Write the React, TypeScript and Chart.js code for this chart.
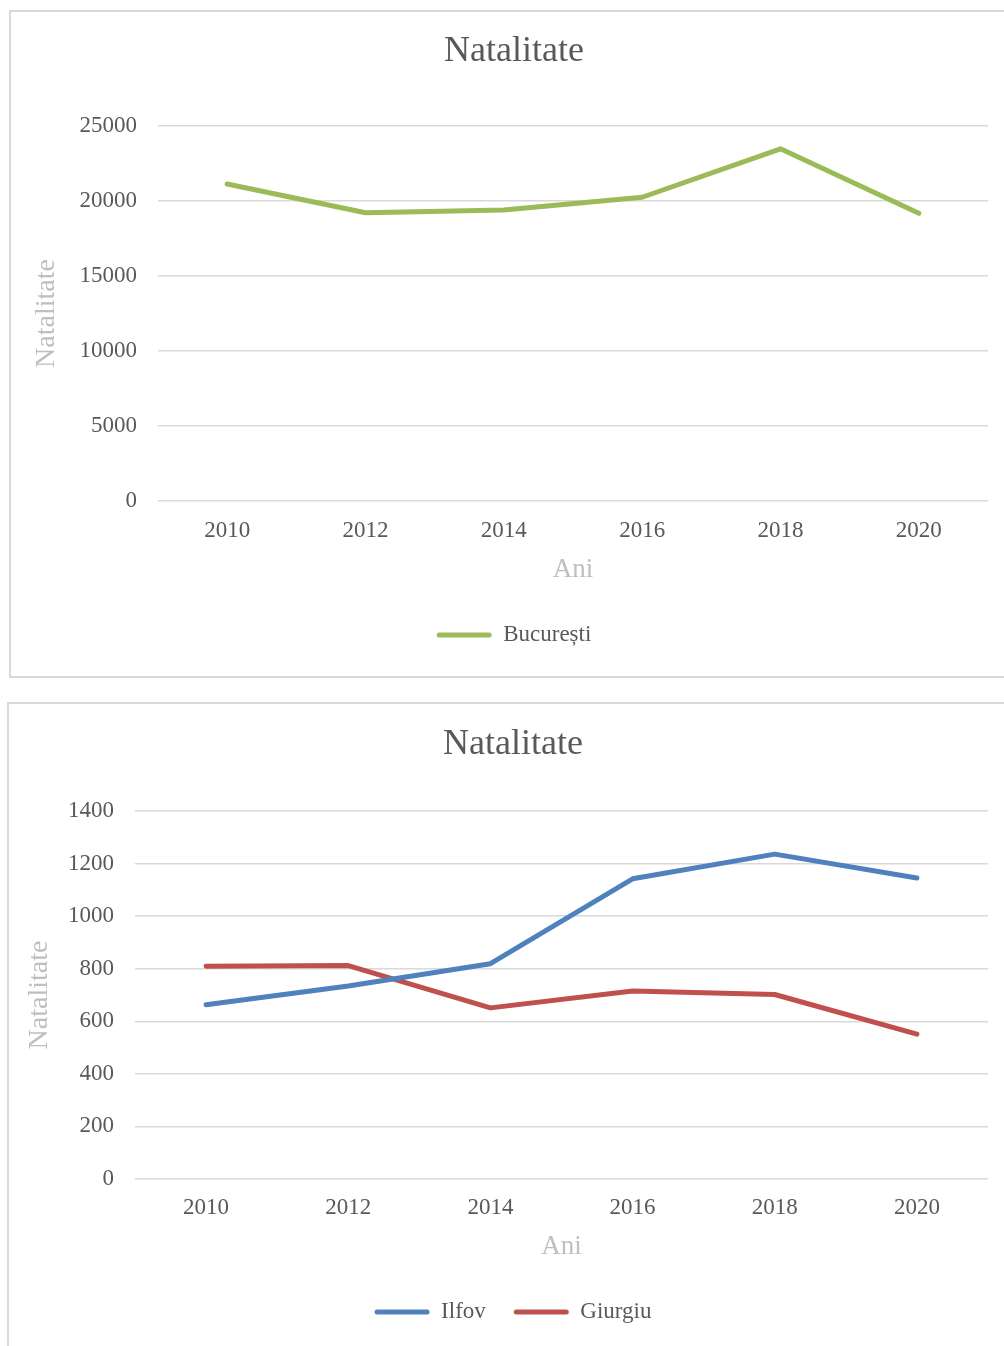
import React, { useEffect, useRef } from "react";
import { Chart, registerables } from "chart.js";

Chart.register(...registerables);

const years = ["2010", "2012", "2014", "2016", "2018", "2020"];
const bucurestiValues = [21130, 19220, 19400, 20250, 23480, 19180];
const ilfovValues = [663, 734, 819, 1142, 1236, 1145];
const giurgiuValues = [809, 812, 651, 715, 702, 551];
const topTicks = [0, 5000, 10000, 15000, 20000, 25000];
const bottomTicks = [0, 200, 400, 600, 800, 1000, 1200, 1400];

const FONT = "'Liberation Serif', 'Times New Roman', serif";
const TEXT = "#595959";
const AXIS_TITLE = "#bfbfbf";
const GRID = "#d9d9d9";

type Series = { label: string; data: number[]; color: string };

type Layout = {
  width: number;
  height: number;
  padBottom: number;
  titlePad: { top: number; bottom: number };
  xTickPad: number;
  xTitlePad: { top: number; bottom: number };
  yWidth: number;
  yTitlePadTop: number;
};

function LineChart({ series, ticks, layout }: { series: Series[]; ticks: number[]; layout: Layout }) {
  const ref = useRef<HTMLCanvasElement | null>(null);
  useEffect(() => {
    if (!ref.current) return;
    const chart = new Chart(ref.current, {
      type: "line",
      data: {
        labels: years,
        datasets: series.map((s) => ({
          label: s.label,
          data: s.data,
          borderColor: s.color,
          backgroundColor: s.color,
          borderWidth: 5,
          borderCapStyle: "round",
          borderJoinStyle: "round",
          pointRadius: 0,
          tension: 0,
          fill: false,
        })),
      },
      options: {
        responsive: false,
        animation: false,
        devicePixelRatio: 1,
        layout: { padding: { left: 30, right: 30, top: 0, bottom: layout.padBottom } },
        plugins: {
          tooltip: { enabled: false },
          title: {
            display: true,
            text: "Natalitate",
            color: TEXT,
            font: { family: FONT, size: 36, weight: "normal" },
            padding: layout.titlePad,
          },
          legend: {
            display: true,
            position: "bottom",
            labels: {
              color: TEXT,
              font: { family: FONT, size: 23 },
              boxWidth: 55,
              boxHeight: 5,
              useBorderRadius: true,
              borderRadius: 2.5,
              padding: 28,
              generateLabels: (c: any) =>
                Chart.defaults.plugins.legend.labels
                  .generateLabels(c)
                  .map((l: any) => ({ ...l, lineWidth: 0, fillStyle: l.strokeStyle })),
            },
          },
        },
        scales: {
          x: {
            offset: true,
            grid: { display: false },
            border: { display: false },
            ticks: { color: TEXT, font: { family: FONT, size: 23 }, padding: layout.xTickPad, maxRotation: 0 },
            title: {
              display: true,
              text: "Ani",
              color: AXIS_TITLE,
              font: { family: FONT, size: 27 },
              padding: layout.xTitlePad,
            },
          },
          y: {
            min: ticks[0],
            max: ticks[ticks.length - 1],
            grid: { color: GRID, lineWidth: 1.5, drawTicks: false },
            border: { display: false },
            ticks: {
              stepSize: ticks[1] - ticks[0],
              color: TEXT,
              font: { family: FONT, size: 23 },
              padding: 21,
              callback: (v: any) => String(v),
            },
            title: {
              display: true,
              text: "Natalitate",
              color: AXIS_TITLE,
              font: { family: FONT, size: 28 },
              padding: { top: layout.yTitlePadTop, bottom: 0 },
            },
            afterFit: (scale: any) => {
              scale.width = layout.yWidth;
            },
          },
        },
      } as any,
    });
    return () => chart.destroy();
  }, []);
  return <canvas ref={ref} width={layout.width} height={layout.height} style={{ display: "block" }} />;
}

const topLayout: Layout = {
  width: 1008,
  height: 667,
  padBottom: 20.5,
  titlePad: { top: 20, bottom: 52.8 },
  xTickPad: 8,
  xTitlePad: { top: 1, bottom: 9.5 },
  yWidth: 118,
  yTitlePadTop: -10,
};

const bottomLayout: Layout = {
  width: 1010,
  height: 643,
  padBottom: 12.5,
  titlePad: { top: 20.4, bottom: 44.4 },
  xTickPad: 7,
  xTitlePad: { top: 2.2, bottom: 9.3 },
  yWidth: 97,
  yTitlePadTop: -14.8,
};

export default function App() {
  return (
    <div
      style={{
        position: "fixed",
        left: 0,
        top: 0,
        width: 1004,
        height: 1346,
        overflow: "hidden",
        background: "#ffffff",
      }}
    >
      <div
        style={{
          position: "absolute",
          left: 9,
          top: 10,
          width: 1100,
          height: 668,
          boxSizing: "border-box",
          border: `2px solid ${GRID}`,
        }}
      />
      <div
        style={{
          position: "absolute",
          left: 7,
          top: 702,
          width: 1100,
          height: 800,
          boxSizing: "border-box",
          border: `2px solid ${GRID}`,
        }}
      />
      <div style={{ position: "absolute", left: 10, top: 10 }}>
        <LineChart
          series={[{ label: "București", data: bucurestiValues, color: "#9BBB59" }]}
          ticks={topTicks}
          layout={topLayout}
        />
      </div>
      <div style={{ position: "absolute", left: 8, top: 703 }}>
        <LineChart
          series={[
            { label: "Ilfov", data: ilfovValues, color: "#4F81BD" },
            { label: "Giurgiu", data: giurgiuValues, color: "#C0504D" },
          ]}
          ticks={bottomTicks}
          layout={bottomLayout}
        />
      </div>
    </div>
  );
}
